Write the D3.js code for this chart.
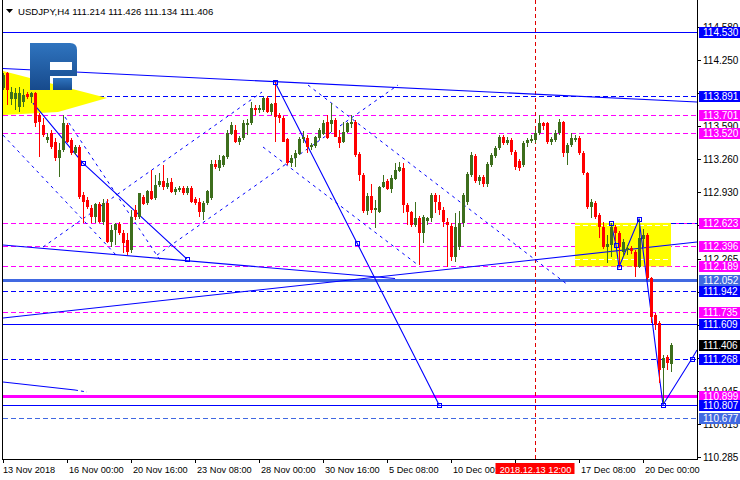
<!DOCTYPE html>
<html><head><meta charset="utf-8">
<script src="https://cdn.jsdelivr.net/npm/d3@7"></script>
<style>
body{margin:0;background:#fff}
svg{display:block}
text{font-family:"Liberation Sans",Arial,sans-serif;font-size:10px}
</style>
</head><body>
<svg id="c" width="740" height="480"></svg>
<script>
// ---------- DATA ----------
const symbolTitle = "USDJPY,H4  111.214 111.426 111.134 111.406";
const opens  = [113.97,114.12,113.86,113.86,113.78,113.83,113.91,113.88,113.92,113.70,113.60,113.45,113.52,113.43,113.27,113.35,113.60,113.45,113.32,113.38,
112.90,112.85,112.77,112.68,112.81,112.63,112.82,112.43,112.55,112.61,112.52,112.45,112.35,112.75,112.68,112.88,112.82,112.94,112.87,113.00,
113.04,112.98,113.03,112.93,112.95,112.97,112.92,112.97,112.86,112.83,112.73,112.82,112.87,113.21,113.17,113.20,113.28,113.51,113.55,113.43,
113.47,113.60,113.62,113.77,113.75,113.75,113.87,113.73,113.82,113.70,113.67,113.46,113.22,113.27,113.31,113.46,113.47,113.38,113.39,113.47,
113.51,113.63,113.61,113.65,113.48,113.43,113.53,113.61,113.63,113.31,113.10,112.74,112.89,112.75,112.73,112.98,113.04,112.96,113.06,113.14,
113.17,112.80,112.73,112.60,112.67,112.52,112.64,112.67,112.90,112.83,112.75,112.63,112.59,112.28,112.38,112.62,112.83,113.10,113.29,113.04,
113.08,113.01,113.20,113.29,113.37,113.48,113.42,113.45,113.33,113.24,113.20,113.42,113.44,113.45,113.52,113.62,113.62,113.43,113.45,113.52,
113.63,113.32,113.40,113.45,113.47,113.32,113.12,112.78,112.82,112.70,112.58,112.38,112.40,112.58,112.52,112.33,112.35,112.37,112.33,112.18,
112.46,112.50,112.07,111.70,111.62,111.17,111.28,111.214];
const highs  = [114.12,114.13,113.98,113.97,113.98,113.96,113.93,113.93,113.93,113.72,113.67,113.52,113.55,113.47,113.42,113.70,113.62,113.47,113.40,113.40,
112.93,112.88,112.80,112.82,112.83,112.86,112.86,112.60,112.62,112.63,112.55,112.52,112.75,112.80,112.92,112.90,112.95,113.15,113.10,113.12,
113.20,113.07,113.07,112.98,112.99,112.99,112.99,112.99,112.88,112.87,112.84,112.95,113.25,113.25,113.30,113.30,113.55,113.63,113.60,113.49,
113.65,113.66,113.83,113.80,113.80,113.88,113.89,113.82,114.03,113.72,113.69,113.47,113.30,113.35,113.48,113.54,113.50,113.42,113.49,113.57,
113.65,113.70,113.82,113.67,113.55,113.63,113.63,113.70,113.65,113.33,113.12,112.92,113.01,112.85,112.99,113.10,113.06,113.10,113.22,113.23,
113.22,112.82,112.74,112.83,112.69,112.70,112.68,112.92,112.92,112.90,112.78,112.67,112.62,112.72,112.74,112.92,113.13,113.33,113.31,113.10,
113.10,113.23,113.32,113.39,113.50,113.50,113.48,113.47,113.35,113.26,113.44,113.47,113.50,113.55,113.70,113.63,113.63,113.48,113.55,113.66,
113.64,113.42,113.52,113.50,113.49,113.34,113.13,112.86,112.84,112.72,112.63,112.50,112.62,112.60,112.54,112.46,112.40,112.39,112.35,112.66,
112.56,112.52,112.08,111.72,111.64,111.30,111.30,111.426];
const lows   = [113.95,113.80,113.80,113.75,113.73,113.78,113.86,113.82,113.58,113.28,113.48,113.42,113.36,113.24,113.08,113.33,113.42,113.30,113.30,112.86,
112.62,112.76,112.62,112.62,112.62,112.60,112.42,112.38,112.40,112.50,112.32,112.30,112.32,112.65,112.66,112.80,112.80,112.85,112.85,112.98,
112.95,112.96,112.92,112.90,112.93,112.90,112.90,112.82,112.80,112.68,112.65,112.80,112.85,113.16,113.14,113.18,113.26,113.50,113.42,113.40,
113.45,113.50,113.60,113.70,113.72,113.73,113.72,113.70,113.43,113.62,113.43,113.20,113.18,113.18,113.30,113.42,113.32,113.35,113.37,113.45,
113.50,113.46,113.53,113.48,113.37,113.42,113.52,113.57,113.28,113.04,112.72,112.70,112.72,112.57,112.72,112.97,112.95,112.92,113.05,113.13,
112.72,112.60,112.58,112.58,112.20,112.42,112.60,112.63,112.72,112.70,112.58,112.18,112.24,112.23,112.35,112.58,112.80,113.08,113.02,113.00,
112.98,112.98,113.18,113.27,113.35,113.40,113.40,113.30,113.15,113.14,113.18,113.38,113.42,113.42,113.50,113.55,113.41,113.40,113.43,113.50,
113.28,113.20,113.38,113.43,113.30,113.10,112.76,112.67,112.66,112.47,112.36,112.22,112.28,112.44,112.18,112.28,112.30,112.31,112.08,112.17,
112.38,112.05,111.62,111.55,111.02,110.81,111.15,111.134];
const closes = [114.10,113.95,113.93,113.92,113.92,113.90,113.88,113.92,113.62,113.63,113.50,113.48,113.38,113.27,113.35,113.62,113.43,113.32,113.38,112.88,
112.83,112.78,112.68,112.81,112.63,112.82,112.43,112.55,112.61,112.52,112.42,112.33,112.68,112.68,112.92,112.81,112.94,112.86,113.00,113.04,
112.98,113.02,112.93,112.96,112.97,112.92,112.97,112.83,112.82,112.73,112.82,112.94,113.21,113.18,113.25,113.29,113.52,113.60,113.43,113.47,
113.62,113.62,113.77,113.75,113.77,113.87,113.73,113.81,113.68,113.67,113.43,113.22,113.27,113.32,113.46,113.48,113.38,113.40,113.48,113.55,
113.62,113.47,113.65,113.48,113.42,113.53,113.62,113.63,113.30,113.10,112.74,112.89,112.75,112.77,112.98,113.03,112.96,113.07,113.15,113.18,
112.80,112.73,112.60,112.67,112.52,112.68,112.67,112.90,112.83,112.75,112.63,112.60,112.28,112.58,112.62,112.90,113.11,113.30,113.04,113.08,
113.01,113.21,113.30,113.37,113.48,113.42,113.45,113.33,113.18,113.17,113.42,113.45,113.46,113.52,113.62,113.59,113.43,113.46,113.52,113.63,
113.32,113.40,113.47,113.47,113.32,113.12,112.78,112.83,112.68,112.58,112.38,112.41,112.58,112.52,112.38,112.43,112.37,112.34,112.18,112.47,
112.50,112.07,111.68,111.60,111.15,111.27,111.22,111.406];

const dateTickIndex  = [0,16,32,48,64,80,96,112,128,144,160];
const dateTickLabels = ["13 Nov 2018","16 Nov 00:00","20 Nov 16:00","23 Nov 08:00","28 Nov 00:00","30 Nov 16:00","5 Dec 08:00","10 Dec 00:00","","17 Dec 08:00","20 Dec 00:00"];
const markedBarIndex = 133;
const markedBarLabel = "2018.12.13 12:00";

// price scale ticks (those fully covered by level labels are not shown)
const priceTickValues = [114.580,114.250,113.920,113.590,113.260,112.930,112.600,112.265,111.935,111.605,111.275,110.945,110.615,110.285];
const priceTickLabels = ["114.580","114.250","","113.590","113.260","112.930","112.600","112.265","","","","110.945","110.615","110.285"];

const levelValues = [114.530,113.891,113.701,113.520,112.623,112.396,112.189,112.052,111.942,111.735,111.609,111.268,110.899,110.807,110.677];
const lastPrice = 111.406;

// trend objects as [barIndex, price]
const upperTrend   = [[0,114.165],[173.5,113.83]];
const fallingTrend = [[0,112.402],[98,112.068]];
const risingTrend  = [[0,111.673],[173.5,112.432]];
const shortTrend   = [[0,111.034],[18,110.954]];
const shortTrendExt= [[18,110.954],[21,110.934]];
const peakSwing    = [[68,114.03],[88.5,112.422],[109,110.807]];
const leftSwing    = [[7.5,113.82],[20,113.221],[46,112.262]];
const rightSwing   = [[152,112.622],[153.25,112.402],[154,112.183],[159,112.662],[165,110.807],[172.25,111.268],[173.5,111.354]];
const dashedRays   = [
  [[0,113.50],[28.75,112.282]],
  [[15.5,113.68],[39.25,112.252]],
  [[10,112.382],[64.75,113.93]],
  [[38.5,112.302],[98.75,114.00]],
  [[65,113.381],[103.75,112.203]],
  [[76.25,114.00],[141.25,112.003]]
];
const zoneBox      = {from:143, to:167, top:112.623, bottom:112.189};
const zoneInnerLevels = [112.60,112.26];
const wedge        = [[0,114.14],[26,113.87],[13.75,113.73],[0,113.70]];

// ---------- STYLES ----------
const levelStyle = ["solidBlue","dashBlue","dashMag","dashMag","dashMag","dashMag","dashMag","thickRoyal","dashBlue","dashMag","solidBlue","dashBlue","thickMag","solidBlue","dashRoyal"];
const styles = {
  solidBlue:{c:"#0000ff",w:1,d:null},
  dashBlue:{c:"#0000ff",w:1,d:"5,3"},
  dashMag:{c:"#ff00ff",w:1,d:"5,3"},
  thickRoyal:{c:"#4169e1",w:3,d:null},
  thickMag:{c:"#ff00ff",w:3,d:null},
  dashRoyal:{c:"#4169e1",w:1,d:"5,3"}
};
const BLUE="#0000ff", UP="#3d6e1c", DOWN="#ff0000";

// ---------- SCALES ----------
const svg = d3.select("#c");
const x = d3.scaleLinear().domain([0,173.5]).range([3,697]);
const y = d3.scaleLinear().domain([110.285,114.250]).range([457,60]);
const X0=3, X1=697, YB=459;

const defs = svg.append("defs");
defs.append("clipPath").attr("id","clip").append("rect").attr("x",X0).attr("y",0).attr("width",X1-X0).attr("height",YB);
const grad = defs.append("linearGradient").attr("id","lg").attr("x1",0).attr("y1",0).attr("x2",0).attr("y2",1);
grad.append("stop").attr("offset","0").attr("stop-color","#2f74bf");
grad.append("stop").attr("offset","1").attr("stop-color","#174a8c");

const plot = svg.append("g").attr("clip-path","url(#clip)");
const py = v => Math.round(y(v)) + 0.5;

// horizontal levels
levelValues.forEach((v,k)=>{
  const s = styles[levelStyle[k]];
  plot.append("line").attr("x1",X0).attr("x2",X1).attr("y1",py(v)).attr("y2",py(v))
    .attr("stroke",s.c).attr("stroke-width",s.w).attr("stroke-dasharray",s.d)
    .attr("shape-rendering","crispEdges");
});

// red vertical marker
plot.append("line").attr("x1",Math.round(x(markedBarIndex))+0.5).attr("x2",Math.round(x(markedBarIndex))+0.5)
  .attr("y1",0).attr("y2",YB).attr("stroke","#e00000").attr("stroke-dasharray","4,3").attr("shape-rendering","crispEdges");

// zone box
plot.append("rect").attr("x",x(zoneBox.from)).attr("y",y(zoneBox.top))
  .attr("width",x(zoneBox.to)-x(zoneBox.from)).attr("height",y(zoneBox.bottom)-y(zoneBox.top))
  .attr("fill","#ffff00");
zoneInnerLevels.forEach(v=>{
  plot.append("line").attr("x1",x(zoneBox.from)).attr("x2",x(zoneBox.to)).attr("y1",py(v)).attr("y2",py(v))
    .attr("stroke","#ffffff").attr("stroke-dasharray","5,3").attr("shape-rendering","crispEdges");
});
plot.append("line").attr("x1",x(zoneBox.to)).attr("x2",X1).attr("y1",py(zoneBox.top)).attr("y2",py(zoneBox.top))
  .attr("stroke",BLUE).attr("stroke-dasharray","5,3").attr("shape-rendering","crispEdges");

// wedge
plot.append("path").attr("d",d3.line().x(d=>x(d[0])).y(d=>y(d[1]))(wedge)+"Z").attr("fill","#ffff00");

// trend lines
const ln = d3.line().x(d=>x(d[0])).y(d=>y(d[1]));
[upperTrend,fallingTrend,risingTrend,shortTrend,peakSwing,leftSwing,rightSwing].forEach(t=>{
  plot.append("path").attr("d",ln(t)).attr("fill","none").attr("stroke",BLUE).attr("stroke-width",1.1);
});
plot.append("path").attr("d",ln(shortTrendExt)).attr("fill","none").attr("stroke",BLUE).attr("stroke-dasharray","3,3");
dashedRays.forEach(t=>{
  plot.append("path").attr("d",ln(t)).attr("fill","none").attr("stroke",BLUE).attr("stroke-width",1).attr("stroke-dasharray","3,4");
});

// candles
const bars = d3.range(opens.length).map(i=>({i,o:opens[i],h:highs[i],l:lows[i],c:closes[i]}));
const cg = plot.append("g").attr("shape-rendering","crispEdges");
cg.selectAll("rect.w").data(bars).join("rect").attr("class","w")
  .attr("x",d=>Math.round(x(d.i))).attr("width",1)
  .attr("y",d=>Math.round(y(d.h))).attr("height",d=>Math.max(1,Math.round(y(d.l))-Math.round(y(d.h))))
  .attr("fill",d=>d.c>=d.o?UP:DOWN);
cg.selectAll("rect.b").data(bars).join("rect").attr("class","b")
  .attr("x",d=>Math.round(x(d.i))-1).attr("width",3)
  .attr("y",d=>Math.round(y(Math.max(d.o,d.c))))
  .attr("height",d=>Math.max(1,Math.round(y(Math.min(d.o,d.c)))-Math.round(y(Math.max(d.o,d.c)))))
  .attr("fill",d=>d.c>=d.o?UP:DOWN);

// anchor squares
const squares = [peakSwing[0],peakSwing[1],peakSwing[2],leftSwing[1],leftSwing[2],
  rightSwing[0],rightSwing[1],rightSwing[2],rightSwing[3],rightSwing[4],rightSwing[5]];
plot.selectAll("rect.sq").data(squares).join("rect").attr("class","sq")
  .attr("x",d=>Math.round(x(d[0]))-1.5).attr("y",d=>Math.round(y(d[1]))-1.5)
  .attr("width",4).attr("height",4).attr("fill","none").attr("stroke",BLUE).attr("shape-rendering","crispEdges");

// logo
const logo = svg.append("g");
logo.append("path").attr("d","M30,43 H70 Q77,43 77,50 V76 H50 V90 H30 Z").attr("fill","url(#lg)");
logo.append("rect").attr("x",50).attr("y",62).attr("width",22).attr("height",8).attr("fill","#fff");
logo.append("rect").attr("x",53).attr("y",78).attr("width",19).attr("height",12).attr("fill","url(#lg)");

// frame
svg.append("path").attr("d",`M${X0-0.5},0 V${YB+0.5} H${X1+0.5} V0`).attr("fill","none").attr("stroke","#000").attr("shape-rendering","crispEdges");

// title
svg.append("path").attr("d","M6,9 H13 L9.5,13 Z").attr("fill","#000");
svg.append("text").attr("x",18).attr("y",14.5).attr("fill","#000").style("font-size","9.6px").text(symbolTitle);

// price axis
const pa = svg.append("g");
priceTickValues.forEach((v,k)=>{
  const yy=Math.round(y(v))+0.5;
  pa.append("line").attr("x1",X1).attr("x2",X1+4).attr("y1",yy).attr("y2",yy).attr("stroke","#000").attr("shape-rendering","crispEdges");
  if(priceTickLabels[k]) pa.append("text").attr("x",703).attr("y",yy+3.5).attr("fill","#000").text(priceTickLabels[k]);
});
const labelBg = {solidBlue:"#0000ff",dashBlue:"#0000ff",dashMag:"#ff00ff",thickRoyal:"#4169e1",thickMag:"#ff00ff",dashRoyal:"#4169e1"};
const priceLabels = levelValues.map((v,k)=>({v,bg:labelBg[levelStyle[k]]})).concat([{v:lastPrice,bg:"#000"}]);
priceLabels.forEach(d=>{
  const yy=Math.round(y(d.v));
  pa.append("rect").attr("x",699).attr("y",yy-5).attr("width",41).attr("height",11).attr("fill",d.bg);
  pa.append("text").attr("x",703).attr("y",yy+4).attr("fill","#fff").text(d.v.toFixed(3));
});

// time axis
const ta = svg.append("g");
dateTickIndex.forEach((i,k)=>{
  const xx=Math.round(x(i))+0.5;
  ta.append("line").attr("x1",xx).attr("x2",xx).attr("y1",YB).attr("y2",YB+4).attr("stroke","#000").attr("shape-rendering","crispEdges");
  if(dateTickLabels[k]) ta.append("text").attr("x",k===0?3:xx+1.5).attr("y",472.5).attr("fill","#000").style("font-size","9.2px").text(dateTickLabels[k]);
});
const mx = Math.round(x(markedBarIndex))+0.5;
ta.append("rect").attr("x",mx-40).attr("y",463).attr("width",79).attr("height",11).attr("fill","#ff0000");
ta.append("text").attr("x",mx).attr("y",472.5).attr("text-anchor","middle").attr("fill","#fff").style("font-size","9.2px").text(markedBarLabel);
</script>
</body></html>
